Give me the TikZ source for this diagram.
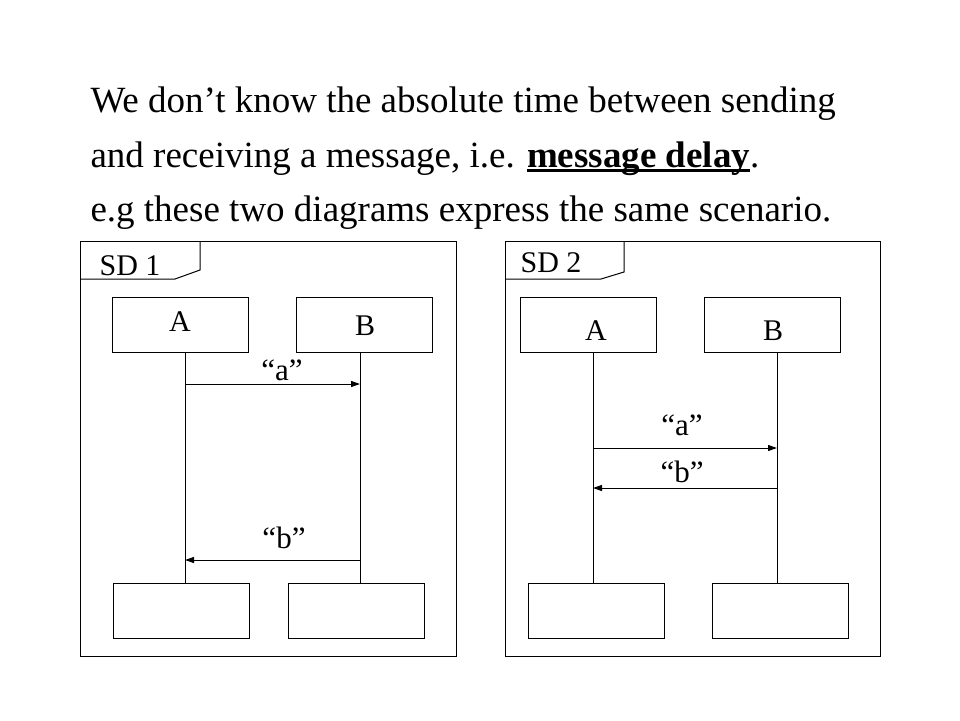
\documentclass[tikz,border=0pt]{standalone}
\usepackage{fontspec}
\setmainfont{Liberation Serif}
\usetikzlibrary{arrows.meta}

% thick underline as in the slide
\newcommand\thickul[1]{\setbox0\hbox{#1}\rlap{\rule[-5pt]{\wd0}{3pt}}\box0}

\tikzset{
  lifebox/.style={draw, minimum width=136pt, minimum height=55pt, inner sep=0pt, anchor=north west},
  msg/.style={-{Triangle[length=9pt,width=6pt]}},
  msglabel/.style={font=\fontsize{31}{31}\selectfont, inner sep=0pt, anchor=base},
  boxlabel/.style={font=\fontsize{30}{30}\selectfont, inner sep=0pt},
  bodytext/.style={font=\fontsize{37}{37}\selectfont, anchor=base west, inner sep=0pt}
}

\begin{document}
\begin{tikzpicture}[x=1pt,y=-1pt, line width=1pt]
    \useasboundingbox (0,0) rectangle (960,720);
    % text on top
    \node[bodytext] (line1) at (90,112) {We don’t know the absolute time between sending};
    \node[bodytext] (line2) at (90,167) {and receiving a message, i.e. \thickul{\textbf{message delay}}.};
    \node[bodytext] (line3) at (90,221) {e.g these two diagrams express the same scenario.};

    % frame SD 1
    \draw (80,241) rectangle (456,656);
    \draw (200,241) -- (200,270) -- (175,279) -- (80,279);
    \node[boxlabel] (sd1) at (130,265.5) {SD 1};
    \node[lifebox] (a1) at (112,297) {};
    \node[lifebox] (b1) at (296,297) {};
    \node[boxlabel] (a1t) at (180,322) {A};
    \node[boxlabel] (b1t) at (365,326) {B};
    \node[lifebox] (a1e) at (113,583) {};
    \node[lifebox] (b1e) at (288,583) {};
    \coordinate (a1top) at (185,352);
    \coordinate (a1bot) at (185,583);
    \coordinate (b1top) at (360,352);
    \coordinate (b1bot) at (360,583);
    \draw (a1top) -- (a1bot);
    \draw (b1top) -- (b1bot);
    \coordinate (a1s) at (185,384);
    \coordinate (b1r) at (360,384);
    \draw[msg] (a1s) -- (b1r);
    \node[msglabel] (ma1) at (282,380) {“a”};
    \coordinate (b1s) at (360,560);
    \coordinate (a1r) at (185,560);
    \draw[msg] (b1s) -- (a1r);
    \node[msglabel] (mb1) at (284,548) {“b”};

    % frame SD 2
    \draw (505,241) rectangle (880,656);
    \draw (624,241) -- (624,272) -- (601,279) -- (505,279);
    \node[boxlabel] (sd2) at (551,263) {SD 2};
    \node[lifebox] (a2) at (520,297) {};
    \node[lifebox] (b2) at (704,297) {};
    \node[boxlabel] (a2t) at (596,331) {A};
    \node[boxlabel] (b2t) at (773,331) {B};
    \node[lifebox] (a2e) at (528,583) {};
    \node[lifebox] (b2e) at (712,583) {};
    \coordinate (a2top) at (593,352);
    \coordinate (a2bot) at (593,583);
    \coordinate (b2top) at (777,352);
    \coordinate (b2bot) at (777,583);
    \draw (a2top) -- (a2bot);
    \draw (b2top) -- (b2bot);
    \coordinate (a2s) at (593,448);
    \coordinate (b2r) at (777,448);
    \draw[msg] (a2s) -- (b2r);
    \node[msglabel] (ma2) at (682,435) {“a”};
    \coordinate (b2s) at (777,488);
    \coordinate (a2r) at (593,488);
    \draw[msg] (b2s) -- (a2r);
    \node[msglabel] (mb2) at (682,482) {“b”};
\end{tikzpicture}
\end{document}
